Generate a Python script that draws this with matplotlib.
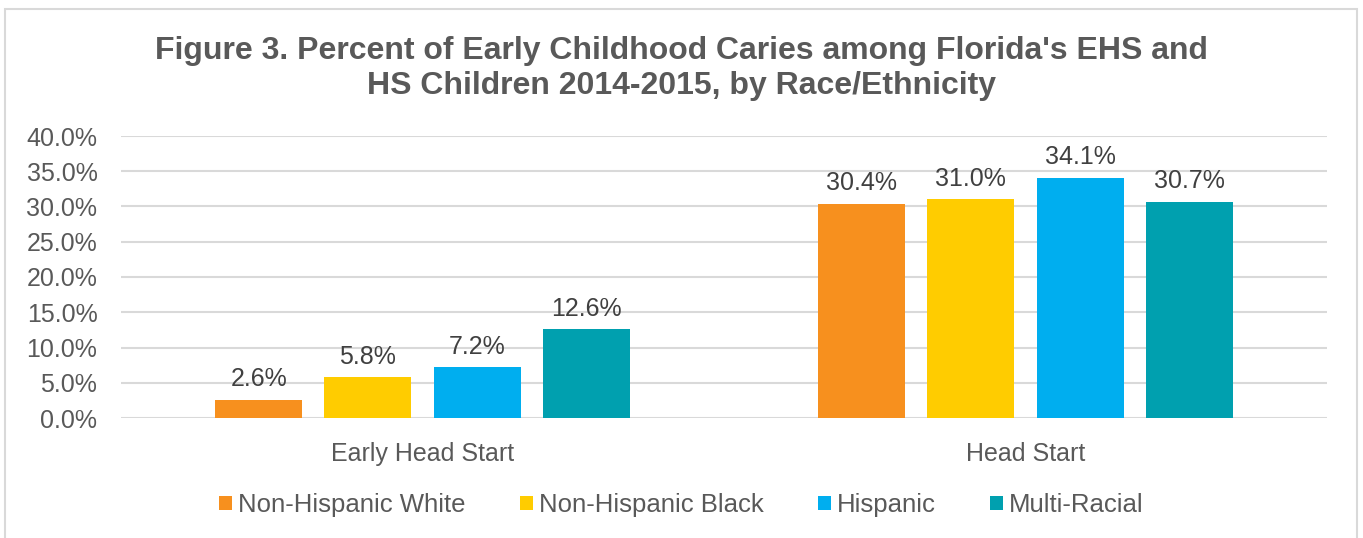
import matplotlib
matplotlib.use("Agg")
import matplotlib.pyplot as plt
import numpy as np
from matplotlib.patches import Rectangle

plt.rcParams['font.family'] = ['Liberation Sans', 'DejaVu Sans']

categories = ["Early Head Start", "Head Start"]
series_names = ["Non-Hispanic White", "Non-Hispanic Black", "Hispanic", "Multi-Racial"]
values = {
    "Non-Hispanic White": [2.6, 30.4],
    "Non-Hispanic Black": [5.8, 31.0],
    "Hispanic": [7.2, 34.1],
    "Multi-Racial": [12.6, 30.7],
}
colors = ["#F7901E", "#FFCC00", "#00AEEF", "#00A0AF"]
yticks = [0, 5, 10, 15, 20, 25, 30, 35, 40]

fig = plt.figure(figsize=(13.63, 5.38), dpi=100)
ax = fig.add_axes([121/1363, 1-418/538, (1327-121)/1363, (418-136)/538])

x = np.arange(len(categories))
bw = 0.1443
step = 0.181
for i, (name, c) in enumerate(zip(series_names, colors)):
    xs = x + (i - 1.5) * step
    bars = ax.bar(xs, values[name], width=bw, color=c, label=name, zorder=3)
    for b, v in zip(bars, values[name]):
        ax.annotate(f"{v:.1f}%", (b.get_x() + b.get_width()/2, v), xytext=(0, 6),
                    textcoords='offset points', ha='center', va='bottom',
                    fontsize=18, color='#404040')

ax.set_xlim(-0.5, 1.5)
ax.set_ylim(0, 40)
ax.set_yticks(yticks)
ax.set_yticklabels([f"{t:.1f}%" for t in yticks], fontsize=18, color='#595959')
ax.set_xticks(x)
ax.set_xticklabels(categories, fontsize=18, color='#595959')
ax.tick_params(axis='both', length=0)
ax.tick_params(axis='y', pad=17)
ax.tick_params(axis='x', pad=17)
ax.grid(axis='y', color='#D9D9D9', linewidth=1.5, zorder=0)
for s in ax.spines.values():
    s.set_visible(False)

fig.text(0.5, 1-51/538, "Figure 3. Percent of Early Childhood Caries among Florida's EHS and",
         ha='center', va='center', fontsize=23, fontweight='bold', color='#595959')
fig.text(0.5, 1-86/538, "HS Children 2014-2015, by Race/Ethnicity",
         ha='center', va='center', fontsize=23, fontweight='bold', color='#595959')

leg = fig.legend(loc='center', bbox_to_anchor=(0.5, 1-505/538), ncol=4, frameon=False,
                 fontsize=18.5, handlelength=0.5, handleheight=0.5, handletextpad=0.25,
                 columnspacing=2.1, labelcolor='#595959')

fig.patches.append(Rectangle((4.5/1363, -0.05), (1357-4.5)/1363, 1.05 - 9.5/538,
                             transform=fig.transFigure, fill=False, edgecolor='#D9D9D9',
                             linewidth=1.5))

fig.savefig("out.png", dpi=100, facecolor='white')
